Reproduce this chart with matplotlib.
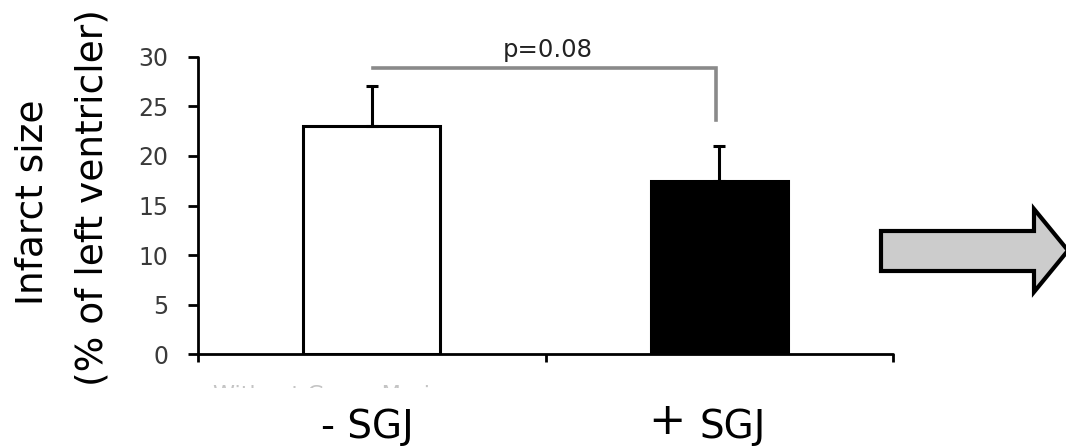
import matplotlib
matplotlib.use("Agg")
import matplotlib.pyplot as plt
import matplotlib.patches as mpatch
from matplotlib.transforms import Bbox, TransformedBbox
import numpy as np

# infarct size per group, mean and upper SEM (% of left ventricle)
groups = ["- SGJ", "+ SGJ"]
infarct_mean = [23.0, 17.5]
infarct_sem = [4.0, 3.5]
bar_colors = ["white", "black"]
p_label = "p=0.08"
yticks = [0, 5, 10, 15, 20, 25, 30]
hidden_caption = "Without Green Marine"

W, H = 1066, 447
fig = plt.figure(figsize=(W / 100, H / 100), dpi=100)
ax = fig.add_axes([198 / W, (H - 354.3) / H, 695 / W, 297.6 / H])

x = np.arange(len(groups)) + 0.5
ax.bar(x, infarct_mean, width=0.395, color=bar_colors, edgecolor="black",
       linewidth=2.2, zorder=2)
ax.errorbar(x, infarct_mean, yerr=[np.zeros(len(x)), infarct_sem], fmt="none",
            ecolor="black", elinewidth=2.2, capsize=4, capthick=2.2, zorder=3)

ax.set_xlim(0, len(groups))
ax.set_ylim(0, 30)
ax.set_xticks(np.arange(len(groups) + 1))
ax.set_xticklabels([])
ax.set_yticks(yticks)
ax.tick_params(axis="y", direction="out", length=7.5, width=2, pad=14,
               labelsize=17, labelcolor="#3a3a3a")
ax.tick_params(axis="x", direction="out", length=6, width=2)
for s in ["top", "right"]:
    ax.spines[s].set_visible(False)
for s in ["left", "bottom"]:
    ax.spines[s].set_linewidth(2)
    ax.spines[s].set_capstyle("round")

# significance bracket between the two groups
ax.plot([x[0] + 0.005, x[1] - 0.01, x[1] - 0.01], [28.9, 28.9, 23.6],
        color="#8a8a8a", lw=2.6, clip_on=False, solid_joinstyle="miter")
ax.text((x[0] + x[1]) / 2 + 0.007, 30.0, p_label, ha="center", va="baseline",
        fontsize=17.5, color="#222222")

# caption under the axis, mostly cut away
cap = fig.text(213 / W, (H - 401) / H, hidden_caption, ha="left",
               va="baseline", fontsize=16, color="#c4c4c4")
cap.set_clip_box(TransformedBbox(Bbox([[0, (H - 388) / H], [1, (H - 385) / H]]),
                                 fig.transFigure))
cap.set_clip_on(True)

# group labels under the bars
ax.annotate(groups[0], xy=(x[0], 0), xycoords=("data", "axes fraction"),
            xytext=(-3, -60.5), textcoords="offset points",
            ha="center", va="baseline", fontsize=28, color="black")
sign, name = groups[1].split(" ")
ax.annotate(sign, xy=(x[1], 0), xycoords=("data", "axes fraction"),
            xytext=(-37.4, -57.5), textcoords="offset points",
            ha="center", va="baseline", fontsize=32, color="black")
ax.annotate(name, xy=(x[1], 0), xycoords=("data", "axes fraction"),
            xytext=(-14.5, -60.5), textcoords="offset points",
            ha="left", va="baseline", fontsize=28, color="black")

# y axis title, two lines
fig.text(43 / W, (H - 202) / H, "Infarct size", rotation=90,
         rotation_mode="anchor", ha="center", va="baseline", fontsize=27)
fig.text(103 / W, (H - 197.5) / H, "(% of left ventricler)", rotation=90,
         rotation_mode="anchor", ha="center", va="baseline", fontsize=27)

# block arrow on the right
pts = [(881, 231), (1034, 231), (1034, 209), (1068, 250.5),
       (1034, 292), (1034, 271), (881, 271)]
verts = [(px / W, (H - py) / H) for px, py in pts]
arrow = mpatch.Polygon(verts, closed=True, transform=fig.transFigure,
                       facecolor="#cccccc", edgecolor="black", linewidth=3,
                       joinstyle="miter")
fig.patches.append(arrow)

fig.savefig("out.png", dpi=100)
